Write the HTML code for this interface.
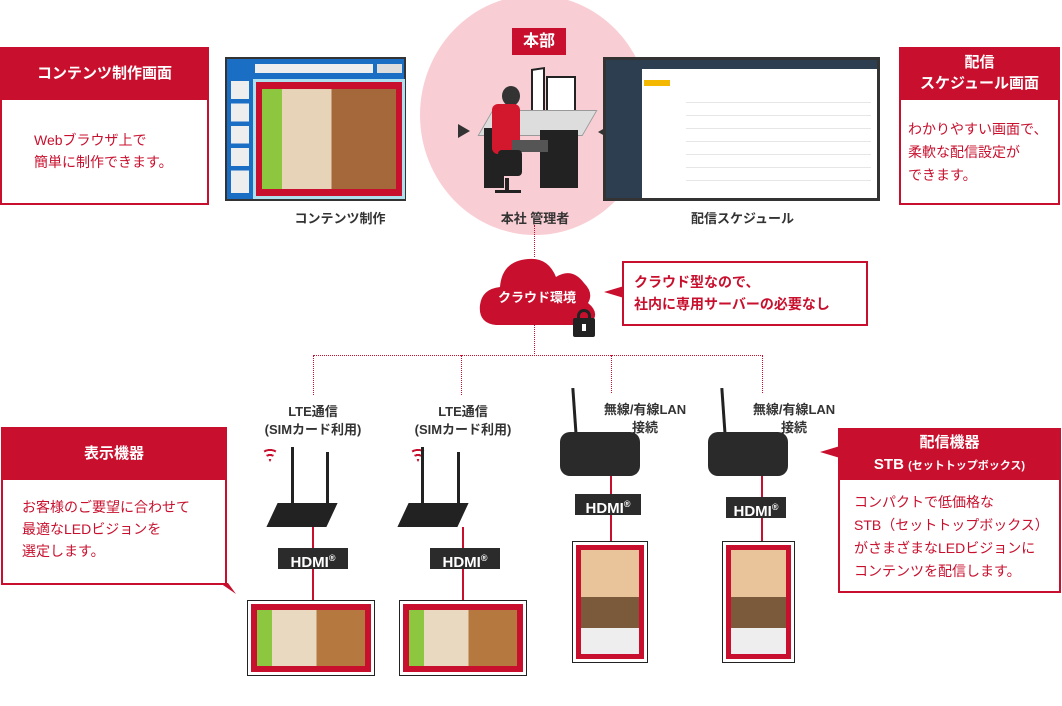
<!DOCTYPE html>
<html><head><meta charset="utf-8">
<style>
*{margin:0;padding:0;box-sizing:border-box}
body{width:1062px;height:706px;position:relative;background:#fff;font-family:"Liberation Sans","Noto Sans CJK JP",sans-serif;overflow:hidden}
.a{position:absolute}
.red{color:#c8102e}
.lbl{font-size:13px;font-weight:bold;color:#333;text-align:center;line-height:18px}
.hd{background:#c8102e;color:#fff;font-weight:bold;text-align:center}
.bx{border:2px solid #c8102e;background:#fff}
.hdmi{background:#2b2b2b;color:#fff;font-weight:bold;font-size:15px;text-align:center;line-height:21px;font-family:"Liberation Sans",sans-serif}
.hdmi sup{font-size:9px}
.vl{position:absolute;width:0;border-left:1px dotted #c8102e}
.rl{position:absolute;width:2px;background:#c8102e}
.scr{position:absolute;border:1px solid #222;background:#fff;padding:3px}
.scr>div{width:100%;height:100%;background:#c8102e;padding:6px}
.scr>div>div{width:100%;height:100%;background:linear-gradient(90deg,#8dc63f 0 14%,#e9d9c0 14% 55%,#b5793f 55% 100%)}
.scr.p>div>div{background:linear-gradient(180deg,#e9c39a 0 45%,#7a5a3a 45% 75%,#eee 75%)}
.wifi{position:absolute;width:16px;height:16px;background:radial-gradient(circle at 50% 100%,#c8102e 0 3px,transparent 3px 6px,#c8102e 6px 8px,transparent 8px 11px,#c8102e 11px 13px,transparent 13px);clip-path:polygon(50% 100%,0 10%,100% 10%)}
</style></head><body>

<div class="a" style="left:420px;top:-5px;width:230px;height:240px;border-radius:50%;background:#f9cdd4"></div>
<div class="a hd" style="left:512px;top:28px;width:54px;height:27px;font-size:16px;line-height:27px">本部</div>

<!-- left monitor -->
<div class="a" style="left:225px;top:57px;width:181px;height:144px;background:#333;padding:2px">
 <div style="width:100%;height:100%;background:#1a6fc4;position:relative">
  <div class="a" style="left:28px;top:5px;width:118px;height:9px;background:#eee"></div>
  <div class="a" style="left:150px;top:5px;width:25px;height:9px;background:#ddd"></div>
  <div class="a" style="left:4px;top:22px;width:18px;height:112px;background:linear-gradient(#eee 0 16%,#1a6fc4 16% 20%,#eee 20% 36%,#1a6fc4 36% 40%,#eee 40% 56%,#1a6fc4 56% 60%,#eee 60% 76%,#1a6fc4 76% 80%,#eee 80%)"></div>
  <div class="a" style="left:26px;top:20px;width:152px;height:120px;background:#aee0f0;padding:3px">
   <div style="width:100%;height:100%;background:#c8102e;padding:7px 6px">
    <div style="width:100%;height:100%;background:linear-gradient(90deg,#8dc63f 0 15%,#e6d3b8 15% 52%,#a5683a 52%)"></div>
   </div>
  </div>
 </div>
</div>
<div class="a" style="left:458px;top:124px;width:0;height:0;border-top:7px solid transparent;border-bottom:7px solid transparent;border-left:12px solid #333"></div>

<!-- person -->
<div class="a" style="left:531px;top:68px;width:14px;height:50px;background:#fff;border:2px solid #222;transform:skewY(-8deg)"></div>
<div class="a" style="left:546px;top:76px;width:30px;height:48px;background:#fff;border:2px solid #222"></div>
<div class="a" style="left:485px;top:110px;width:105px;height:26px;background:#ddd;transform:skewX(-30deg);border:1px solid #999"></div>
<div class="a" style="left:484px;top:128px;width:20px;height:60px;background:#222"></div>
<div class="a" style="left:540px;top:130px;width:38px;height:58px;background:#222"></div>
<div class="a" style="left:502px;top:86px;width:18px;height:20px;border-radius:50%;background:#333"></div>
<div class="a" style="left:492px;top:104px;width:28px;height:50px;background:#d3182e;border-radius:6px"></div>
<div class="a" style="left:512px;top:140px;width:36px;height:12px;background:#555"></div>
<div class="a" style="left:498px;top:150px;width:24px;height:26px;background:#222;border-radius:4px"></div>
<div class="a" style="left:505px;top:178px;width:4px;height:14px;background:#222"></div>
<div class="a" style="left:495px;top:190px;width:26px;height:3px;background:#222"></div>

<!-- right monitor -->
<div class="a" style="left:598px;top:125px;width:0;height:0;border-top:7px solid transparent;border-bottom:7px solid transparent;border-right:12px solid #333"></div>
<div class="a" style="left:603px;top:57px;width:277px;height:144px;background:#333;padding:3px">
 <div style="width:100%;height:100%;background:#fff;position:relative">
  <div class="a" style="left:0;top:0;width:100%;height:9px;background:#2c3e50"></div>
  <div class="a" style="left:0;top:9px;width:36px;height:129px;background:#2c3e50"></div>
  <div class="a" style="left:38px;top:20px;width:26px;height:6px;background:#f5b800"></div>
  <div class="a" style="left:80px;top:30px;width:185px;height:95px;background:repeating-linear-gradient(#fff 0 12px,#e6e6e6 12px 13px)"></div>
 </div>
</div>

<div class="a lbl" style="left:260px;top:210px;width:160px">コンテンツ制作</div>
<div class="a lbl" style="left:470px;top:210px;width:130px">本社 管理者</div>
<div class="a lbl" style="left:660px;top:210px;width:165px">配信スケジュール</div>

<!-- left callout -->
<div class="a bx" style="left:0;top:47px;width:209px;height:158px"></div>
<div class="a hd" style="left:0;top:47px;width:209px;height:53px;font-size:15px;line-height:53px">コンテンツ制作画面</div>
<div class="a red" style="left:34px;top:129px;font-size:14px;line-height:22px">Webブラウザ上で<br>簡単に制作できます。</div>

<!-- right callout -->
<div class="a bx" style="left:899px;top:47px;width:161px;height:158px"></div>
<div class="a hd" style="left:899px;top:47px;width:161px;height:53px;font-size:15px;line-height:21px;padding-top:5px">配信<br>スケジュール画面</div>
<div class="a red" style="left:908px;top:118px;font-size:14px;line-height:23px">わかりやすい画面で、<br>柔軟な配信設定が<br>できます。</div>

<!-- lines -->
<div class="vl" style="left:534px;top:225px;height:32px"></div>
<div class="vl" style="left:534px;top:322px;height:34px"></div>
<div class="a" style="left:313px;top:355px;width:450px;border-top:1px dotted #c8102e"></div>
<div class="vl" style="left:313px;top:355px;height:40px"></div>
<div class="vl" style="left:461px;top:355px;height:40px"></div>
<div class="vl" style="left:611px;top:355px;height:38px"></div>
<div class="vl" style="left:762px;top:355px;height:38px"></div>

<!-- cloud -->
<svg class="a" style="left:476px;top:253px" width="124" height="76">
 <path d="M20 72 Q2 70 4 52 Q6 36 24 34 Q26 8 52 6 Q72 4 80 24 Q96 14 108 30 Q118 40 112 50 Q122 58 118 66 Q114 72 104 72 Z" fill="#c8102e"/>
</svg>
<div class="a" style="left:478px;top:287px;width:118px;text-align:center;color:#fff;font-weight:bold;font-size:13px">クラウド環境</div>
<div class="a" style="left:577px;top:309px;width:14px;height:12px;border:3px solid #222;border-bottom:none;border-radius:7px 7px 0 0"></div>
<div class="a" style="left:573px;top:318px;width:22px;height:19px;background:#222;border-radius:2px"></div>
<div class="a" style="left:582px;top:324px;width:4px;height:7px;background:#fff"></div>

<!-- cloud callout -->
<div class="a" style="left:604px;top:286px;width:0;height:0;border-top:6px solid transparent;border-bottom:6px solid transparent;border-right:20px solid #c8102e"></div>
<div class="a bx" style="left:622px;top:261px;width:246px;height:65px"></div>
<div class="a red" style="left:634px;top:271px;font-size:14px;font-weight:bold;line-height:22px">クラウド型なので、<br>社内に専用サーバーの必要なし</div>

<!-- device labels -->
<div class="a lbl" style="left:253px;top:403px;width:120px">LTE通信<br>(SIMカード利用)</div>
<div class="a lbl" style="left:403px;top:403px;width:120px">LTE通信<br>(SIMカード利用)</div>
<div class="a lbl" style="left:590px;top:401px;width:110px">無線/有線LAN<br>接続</div>
<div class="a lbl" style="left:739px;top:401px;width:110px">無線/有線LAN<br>接続</div>

<div class="wifi" style="left:262px;top:446px"></div>
<div class="wifi" style="left:410px;top:446px"></div>

<!-- LTE routers -->
<div class="a" style="left:291px;top:447px;width:3px;height:62px;background:#222"></div>
<div class="a" style="left:326px;top:452px;width:3px;height:56px;background:#222"></div>
<div class="a" style="left:272px;top:503px;width:60px;height:24px;background:#222;transform:skewX(-25deg)"></div>
<div class="rl" style="left:312px;top:527px;height:74px"></div>
<div class="a hdmi" style="left:278px;top:548px;width:70px;height:21px">HDMI<sup>®</sup></div>
<div class="scr" style="left:247px;top:600px;width:128px;height:76px"><div><div></div></div></div>

<div class="a" style="left:421px;top:447px;width:3px;height:62px;background:#222"></div>
<div class="a" style="left:457px;top:452px;width:3px;height:56px;background:#222"></div>
<div class="a" style="left:403px;top:503px;width:60px;height:24px;background:#222;transform:skewX(-25deg)"></div>
<div class="rl" style="left:462px;top:527px;height:74px"></div>
<div class="a hdmi" style="left:430px;top:548px;width:70px;height:21px">HDMI<sup>®</sup></div>
<div class="scr" style="left:399px;top:600px;width:128px;height:76px"><div><div></div></div></div>

<!-- STB 1 -->
<div class="a" style="left:573px;top:388px;width:3px;height:48px;background:#222;transform:rotate(-4deg)"></div>
<div class="a" style="left:560px;top:432px;width:80px;height:44px;background:#2a2a2a;border-radius:10px"></div>
<div class="rl" style="left:610px;top:476px;height:66px"></div>
<div class="a hdmi" style="left:575px;top:494px;width:66px;height:21px">HDMI<sup>®</sup></div>
<div class="scr p" style="left:572px;top:541px;width:76px;height:122px"><div style="padding:5px"><div></div></div></div>

<!-- STB 2 -->
<div class="a" style="left:722px;top:388px;width:3px;height:48px;background:#222;transform:rotate(-4deg)"></div>
<div class="a" style="left:708px;top:432px;width:80px;height:44px;background:#2a2a2a;border-radius:10px"></div>
<div class="rl" style="left:761px;top:476px;height:66px"></div>
<div class="a hdmi" style="left:726px;top:497px;width:60px;height:21px">HDMI<sup>®</sup></div>
<div class="scr p" style="left:722px;top:541px;width:73px;height:122px"><div style="padding:5px"><div></div></div></div>

<!-- 表示機器 callout -->
<div class="a bx" style="left:1px;top:427px;width:226px;height:158px"></div>
<div class="a hd" style="left:1px;top:427px;width:226px;height:53px;font-size:15px;line-height:53px">表示機器</div>
<svg class="a" style="left:218px;top:582px" width="20" height="14"><polygon points="2,1 10,1 18,12" fill="#c8102e"/></svg>
<div class="a red" style="left:22px;top:496px;font-size:14px;line-height:22px">お客様のご要望に合わせて<br>最適なLEDビジョンを<br>選定します。</div>

<!-- 配信機器 callout -->
<div class="a" style="left:820px;top:446px;width:0;height:0;border-top:6px solid transparent;border-bottom:6px solid transparent;border-right:20px solid #c8102e"></div>
<div class="a bx" style="left:838px;top:428px;width:223px;height:165px"></div>
<div class="a hd" style="left:838px;top:428px;width:223px;height:52px;font-size:15px;line-height:22px;padding-top:4px">配信機器<br>STB <span style="font-size:11px">(セットトップボックス)</span></div>
<div class="a red" style="left:854px;top:491px;font-size:14px;line-height:23px">コンパクトで低価格な<br>STB（セットトップボックス）<br>がさまざまなLEDビジョンに<br>コンテンツを配信します。</div>

</body></html>
